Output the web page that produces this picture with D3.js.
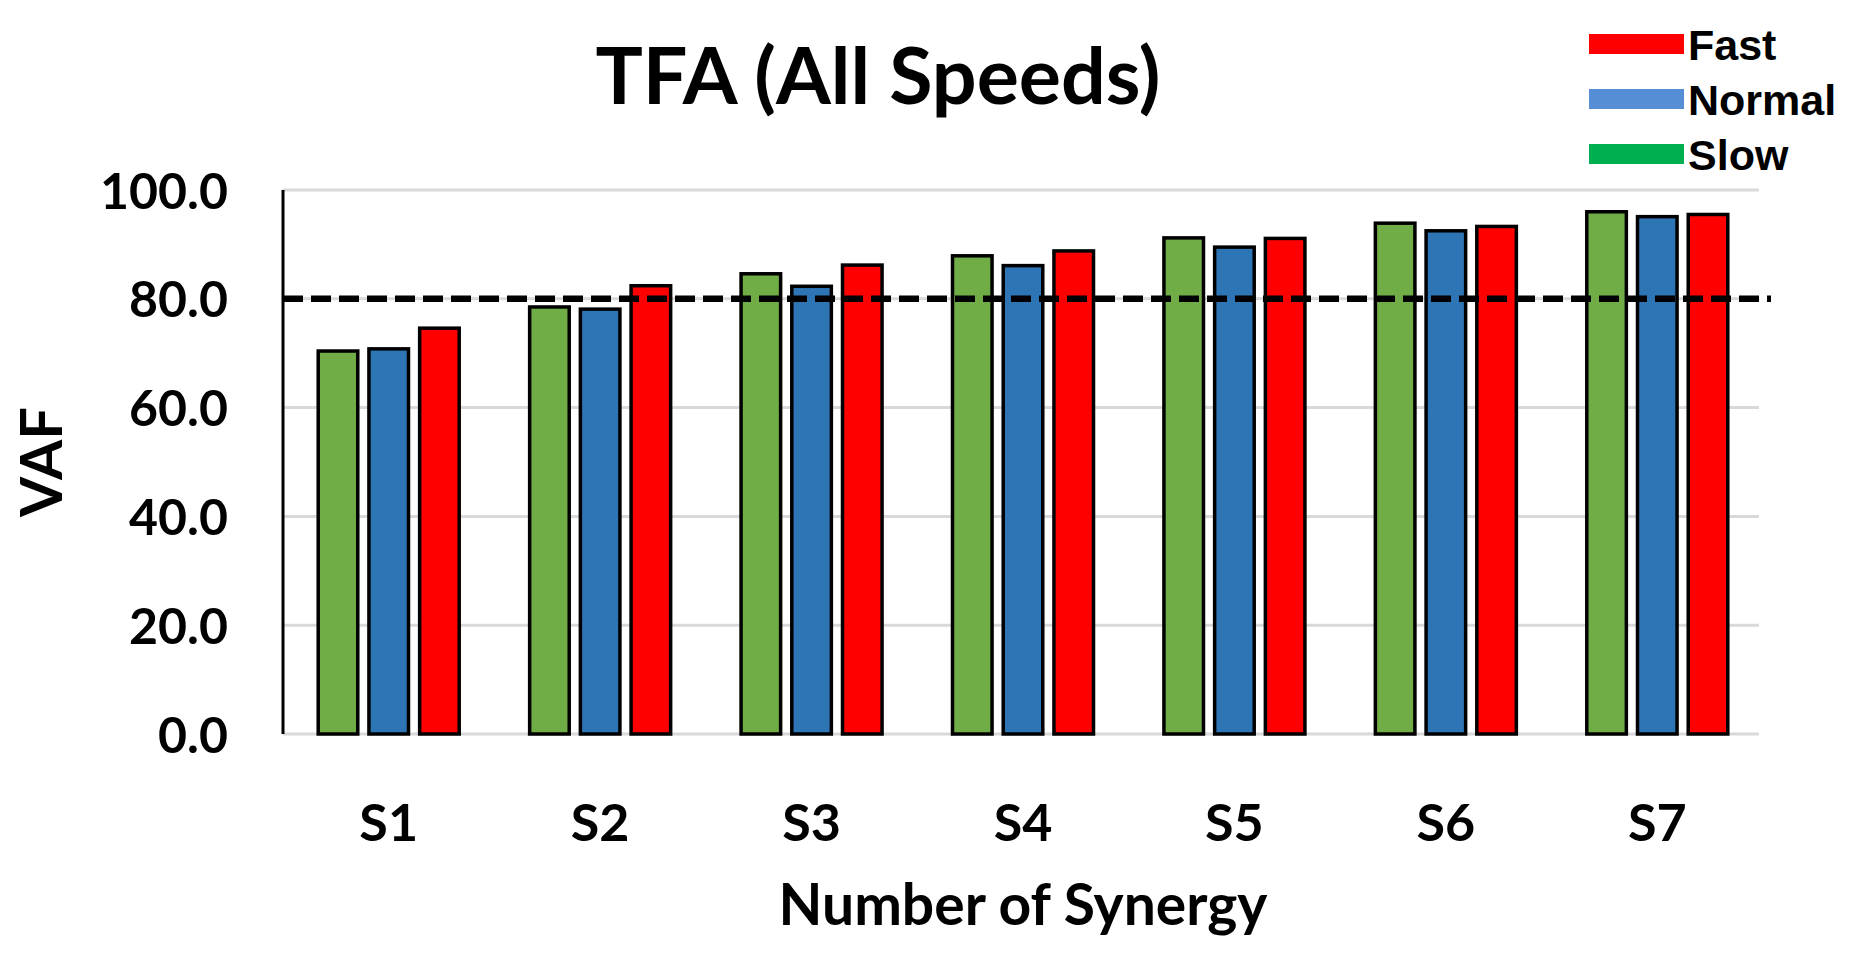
<!DOCTYPE html>
<html>
<head>
<meta charset="utf-8">
<script src="https://cdn.jsdelivr.net/npm/d3@7"></script>
<style>
  body { margin: 0; background: #fff; }
  svg { display: block; }
  .tick text { font-family: Lato, "Open Sans", sans-serif; font-weight: bold; }
</style>
</head>
<body>
<div id="chart"></div>
<script>
// data
const categories = ['S1', 'S2', 'S3', 'S4', 'S5', 'S6', 'S7'];
const seriesNames = ['Slow', 'Normal', 'Fast'];
const slowVals   = [70.4, 78.5, 84.6, 87.9, 91.2, 93.9, 96.0];
const normalVals = [70.8, 78.1, 82.3, 86.1, 89.5, 92.5, 95.1];
const fastVals   = [74.6, 82.4, 86.2, 88.8, 91.1, 93.3, 95.5];
const yTicks = [0, 20, 40, 60, 80, 100];
const threshold = 80;
const legendOrder = ['Fast', 'Normal', 'Slow'];

const barColor = { Slow: '#70AD47', Normal: '#2E75B6', Fast: '#FF0000' };
const legendColor = { Fast: '#FF0000', Normal: '#558ED5', Slow: '#00B050' };

const width = 1866, height = 953;
const margin = { top: 190, right: 103, bottom: 219, left: 283 };
const chartWidth = width - margin.left - margin.right;
const chartHeight = height - margin.top - margin.bottom;

const svg = d3.select('#chart').append('svg')
    .attr('width', width)
    .attr('height', height);

const chart = svg.append('g')
    .attr('transform', `translate(${margin.left},${margin.top})`);

const rows = categories.map((c, i) => ({
    cat: c,
    values: [
        { key: 'Slow', v: slowVals[i] },
        { key: 'Normal', v: normalVals[i] },
        { key: 'Fast', v: fastVals[i] }
    ]
}));

const xScale = d3.scaleBand()
    .domain(categories)
    .range([0, chartWidth]);
const xInner = d3.scaleBand()
    .domain(seriesNames)
    .range([0, 141])
    .paddingInner(0.22);
const yScale = d3.scaleLinear()
    .domain([0, 100])
    .range([chartHeight, 0]);

// gridlines
chart.append('g')
    .selectAll('line')
    .data(yTicks)
    .enter()
    .append('line')
    .attr('x1', 0)
    .attr('x2', chartWidth - 4)
    .attr('y1', d => yScale(d))
    .attr('y2', d => yScale(d))
    .attr('stroke', '#D9D9D9')
    .attr('stroke-width', 3);

// bars
const groups = chart.selectAll('.group')
    .data(rows)
    .enter()
    .append('g')
    .classed('group', true)
    .attr('transform', d => `translate(${xScale(d.cat) + xScale.bandwidth() / 2 - 70.5},0)`);

groups.selectAll('rect')
    .data(d => d.values)
    .enter()
    .append('rect')
    .attr('x', d => xInner(d.key))
    .attr('y', d => yScale(d.v))
    .attr('width', xInner.bandwidth())
    .attr('height', d => chartHeight - yScale(d.v))
    .attr('fill', d => barColor[d.key])
    .attr('stroke', '#000')
    .attr('stroke-width', 3.5);

// y axis
const yAxis = d3.axisLeft(yScale)
    .tickValues(yTicks)
    .tickSize(0)
    .tickPadding(55)
    .tickFormat(d3.format('.1f'));
const yg = chart.append('g').call(yAxis);
yg.select('.domain').remove();
yg.selectAll('.tick text')
    .style('font-size', '50px')
    .attr('fill', '#000')
    .attr('dy', '0.36em');

chart.append('line')
    .attr('x1', 0).attr('x2', 0)
    .attr('y1', 0).attr('y2', chartHeight)
    .attr('stroke', '#000')
    .attr('stroke-width', 3);

// x axis labels
const xAxis = d3.axisBottom(xScale).tickSize(0).tickPadding(70);
const xg = chart.append('g')
    .attr('transform', `translate(0,${chartHeight})`)
    .call(xAxis);
xg.select('.domain').remove();
xg.selectAll('.tick text')
    .style('font-size', '52px')
    .attr('fill', '#000');

// 80% threshold
chart.append('line')
    .attr('x1', 0)
    .attr('x2', chartWidth + 8)
    .attr('y1', yScale(threshold))
    .attr('y2', yScale(threshold))
    .attr('stroke', '#000')
    .attr('stroke-width', 6.5)
    .attr('stroke-dasharray', '20,8');

// axis titles
svg.append('text')
    .attr('transform', `translate(62, ${margin.top + chartHeight / 2}) rotate(-90)`)
    .attr('text-anchor', 'middle')
    .style('font-family', 'Lato, sans-serif')
    .style('font-weight', 'bold')
    .style('font-size', '58px')
    .text('VAF');

svg.append('text')
    .attr('x', margin.left + chartWidth / 2)
    .attr('y', 925)
    .attr('text-anchor', 'middle')
    .style('font-family', 'Lato, sans-serif')
    .style('font-weight', 'bold')
    .style('font-size', '57px')
    .text('Number of Synergy');

svg.append('text')
    .attr('x', 878)
    .attr('y', 104)
    .attr('text-anchor', 'middle')
    .style('font-family', 'Lato, sans-serif')
    .style('font-weight', 'bold')
    .style('font-size', '79px')
    .text('TFA (All Speeds)');

// legend
const legend = svg.append('g').attr('transform', 'translate(1589,44)');
const items = legend.selectAll('.item')
    .data(legendOrder)
    .enter()
    .append('g')
    .attr('transform', (d, i) => `translate(0,${i * 55})`);
items.append('rect')
    .attr('x', 0).attr('y', -10)
    .attr('width', 95).attr('height', 20)
    .attr('fill', d => legendColor[d]);
items.append('text')
    .attr('x', 99)
    .attr('y', 16)
    .style('font-family', '"Liberation Sans", Arial, sans-serif')
    .style('font-weight', 'bold')
    .style('font-size', '43px')
    .text(d => d);
</script>
</body>
</html>
